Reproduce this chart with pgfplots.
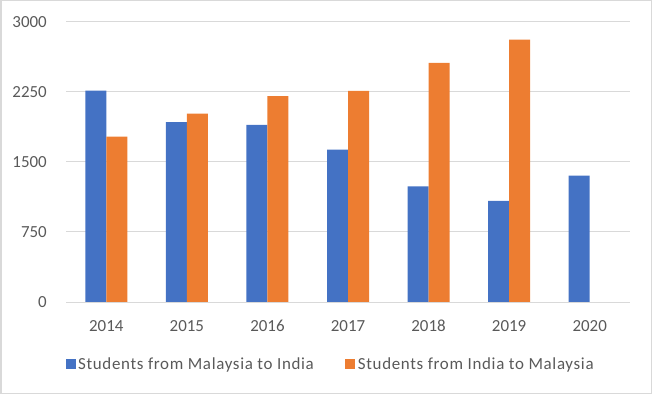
\documentclass[border=0pt]{standalone}
\usepackage{pgfplots}
\pgfplotsset{compat=1.18}
\usepackage{fontspec}
\setmainfont{Carlito}
\newfontfamily\legfont[LetterSpace=4]{Carlito}
\definecolor{cblue}{HTML}{4472C4}
\definecolor{corange}{HTML}{ED7D31}
\definecolor{gridc}{HTML}{D9D9D9}
\definecolor{txt}{HTML}{595959}
\begin{document}
\begin{tikzpicture}
\draw[gridc, line width=1.5bp] (0.75bp,0.75bp) rectangle (651.25bp,393.25bp);
\begin{axis}[
  at={(66bp,92bp)}, anchor=south west,
  scale only axis, width=564bp, height=280bp,
  ybar=0pt, bar width=21bp,
  xmin=-0.5, xmax=6.5, ymin=0, ymax=3000,
  xtick={0,1,2,3,4,5,6},
  xticklabels={2014,2015,2016,2017,2018,2019,2020},
  ytick={0,750,1500,2250,3000},
  yticklabels={0,750,1500,2250,3000},
  /pgf/number format/assume math mode=true,
  axis line style={draw=none},
  major tick length=0pt,
  ymajorgrids, grid style={gridc, line width=1bp},
  tick label style={font=\fontsize{17}{20}\selectfont, text=txt, inner sep=0pt},
  yticklabel style={anchor=east, xshift=-19bp},
  xticklabel style={anchor=north, yshift=-18bp},
  legend style={at={(axis description cs:-0.0064,-0.221)}, anchor=west,
    draw=none, fill=none, legend columns=2,
    font=\legfont\fontsize{17}{20}\selectfont, text=txt,
    nodes={inner xsep=2.5bp},
    /tikz/every odd column/.append style={column sep=0bp},
    /tikz/every even column/.append style={column sep=29bp}},
]
\addplot[fill=cblue, draw=none,
  legend image code/.code={\fill[cblue] (0bp,-5bp) rectangle (10bp,5bp);}]
  coordinates {(0,2265) (1,1927) (2,1898) (3,1633) (4,1238) (5,1084) (6,1355)};
\addplot[fill=corange, draw=none,
  legend image code/.code={\fill[corange] (0bp,-5bp) rectangle (10bp,5bp);}]
  coordinates {(0,1773) (1,2019) (2,2205) (3,2262) (4,2561) (5,2811)};
\legend{Students from Malaysia to India, Students from India to Malaysia}
\end{axis}
\end{tikzpicture}
\end{document}
